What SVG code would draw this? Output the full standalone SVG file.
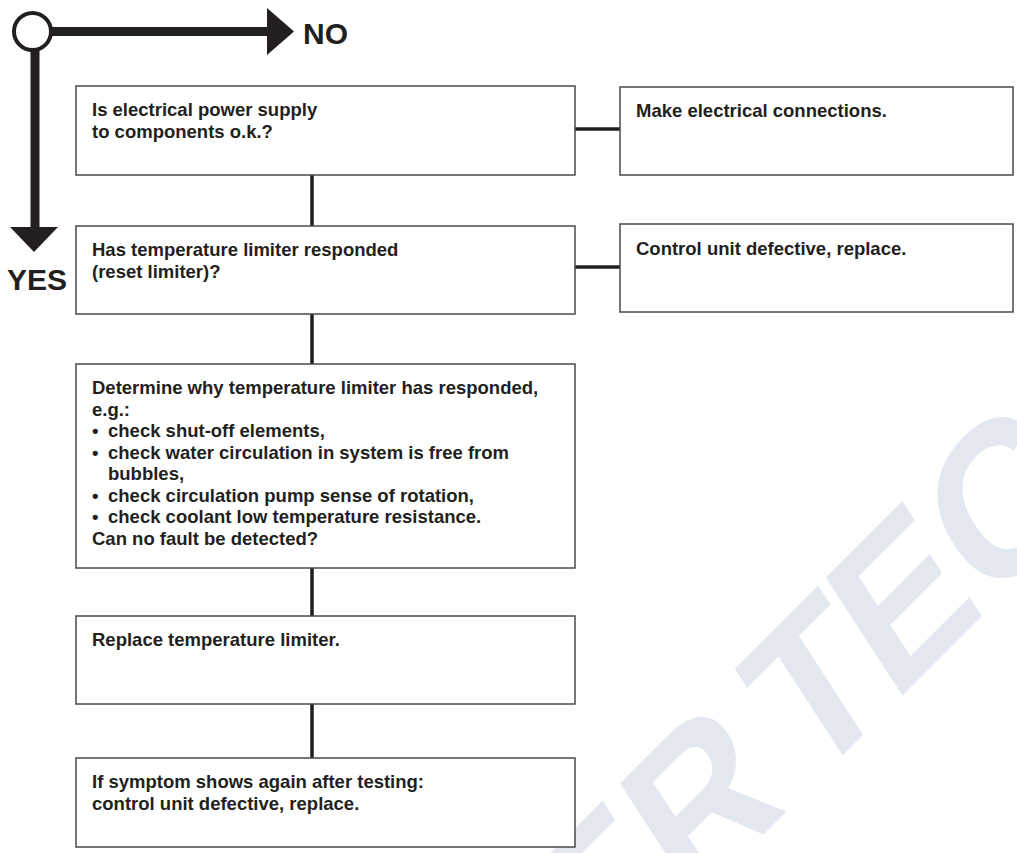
<svg xmlns="http://www.w3.org/2000/svg" width="1017" height="853" viewBox="0 0 1017 853">
  <style>
    .box { fill: #ffffff; stroke: #4a4a4a; stroke-width: 1.5; }
    .label { font-family: "Liberation Sans", Arial, sans-serif; font-weight: bold; font-size: 18.5px; fill: #231f20; }
    .link { stroke: #231f20; stroke-width: 3.5; fill: none; }
    .flow { stroke: #231f20; stroke-width: 9; fill: none; }
    .head { fill: #231f20; }
    .key { font-family: "Liberation Sans", Arial, sans-serif; font-weight: bold; font-size: 30px; fill: #231f20; }
    .mark { font-family: "Liberation Sans", Arial, sans-serif; font-weight: bold; font-size: 200px; fill: #e3e7f0; }
  </style>

  <rect x="0" y="0" width="1017" height="853" fill="#ffffff"/>

  <!-- faint background lettering -->
  <text class="mark" transform="translate(903,695) rotate(-45) skewX(-12)"><tspan x="-438" y="0">E</tspan><tspan x="-305" y="0">R</tspan><tspan x="-132" y="0">T</tspan><tspan x="-14" y="0">E</tspan><tspan x="119" y="0">C</tspan></text>

  <!-- legend: decision start, NO to the right, YES downward -->
  <g id="legend">
    <line class="flow" x1="52" y1="31.5" x2="270" y2="31.5"/>
    <polygon class="head" points="267,8 294,31.5 267,55"/>
    <line class="flow" x1="35" y1="49" x2="35" y2="229"/>
    <polygon class="head" points="10,227 58,227 34,252"/>
    <circle cx="32.5" cy="31.5" r="18.5" fill="#ffffff" stroke="#231f20" stroke-width="4"/>
    <text class="key" x="303" y="44">NO</text>
    <text class="key" x="7" y="290">YES</text>
  </g>

  <!-- connectors -->
  <g id="connectors">
    <line class="link" x1="575" y1="129" x2="620" y2="129"/>
    <line class="link" x1="575" y1="267" x2="620" y2="267"/>
    <line class="link" x1="312" y1="175" x2="312" y2="226"/>
    <line class="link" x1="312" y1="314" x2="312" y2="364"/>
    <line class="link" x1="312" y1="568" x2="312" y2="616"/>
    <line class="link" x1="312" y1="704" x2="312" y2="758"/>
  </g>

  <g id="q-power">
    <rect class="box" x="76" y="86" width="499" height="89"/>
    <text class="label" x="92" y="116">Is electrical power supply</text>
    <text class="label" x="92" y="137.5">to components o.k.?</text>
  </g>

  <g id="a-connections">
    <rect class="box" x="620" y="87" width="393" height="88"/>
    <text class="label" x="636" y="117">Make electrical connections.</text>
  </g>

  <g id="q-limiter">
    <rect class="box" x="76" y="226" width="499" height="88"/>
    <text class="label" x="92" y="256">Has temperature limiter responded</text>
    <text class="label" x="92" y="277.5">(reset limiter)?</text>
  </g>

  <g id="a-control-unit">
    <rect class="box" x="620" y="224" width="393" height="88"/>
    <text class="label" x="636" y="255">Control unit defective, replace.</text>
  </g>

  <g id="q-cause">
    <rect class="box" x="76" y="364" width="499" height="204"/>
    <text class="label" x="92" y="394">Determine why temperature limiter has responded,</text>
    <text class="label" x="92" y="415.5">e.g.:</text>
    <text class="label" x="92" y="437">•</text>
    <text class="label" x="108" y="437">check shut-off elements,</text>
    <text class="label" x="92" y="458.5">•</text>
    <text class="label" x="108" y="458.5">check water circulation in system is free from</text>
    <text class="label" x="108" y="480">bubbles,</text>
    <text class="label" x="92" y="501.5">•</text>
    <text class="label" x="108" y="501.5">check circulation pump sense of rotation,</text>
    <text class="label" x="92" y="523">•</text>
    <text class="label" x="108" y="523">check coolant low temperature resistance.</text>
    <text class="label" x="92" y="544.5">Can no fault be detected?</text>
  </g>

  <g id="a-replace-limiter">
    <rect class="box" x="76" y="616" width="499" height="88"/>
    <text class="label" x="92" y="646">Replace temperature limiter.</text>
  </g>

  <g id="a-retest">
    <rect class="box" x="76" y="758" width="499" height="89"/>
    <text class="label" x="92" y="788">If symptom shows again after testing:</text>
    <text class="label" x="92" y="809.5">control unit defective, replace.</text>
  </g>
</svg>
